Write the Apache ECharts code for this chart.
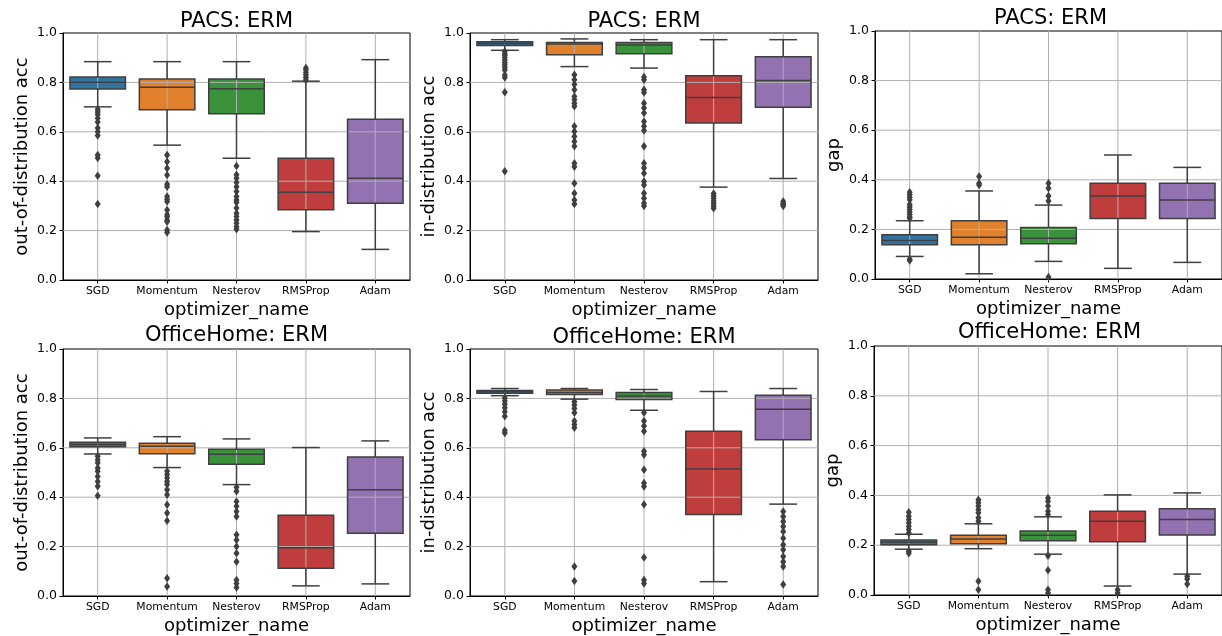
<!DOCTYPE html>
<html>
<head>
<meta charset="utf-8">
<title>Optimizer comparison: ERM on PACS and OfficeHome</title>
<script src="https://cdn.jsdelivr.net/npm/echarts@6/dist/echarts.min.js"></script>
<style>
  html, body { margin: 0; padding: 0; background: #fff; }
  #chart { width: 1222px; height: 636px; }
</style>
</head>
<body>
<div id="chart"></div>
<script>
// Optimizers on the x axis and the shared y ticks
const categories = ['SGD', 'Momentum', 'Nesterov', 'RMSProp', 'Adam'];
const yTicks = [0.0, 0.2, 0.4, 0.6, 0.8, 1.0];
const boxColors = ['#3274a1', '#e1812c', '#3a923a', '#c03d3e', '#9372b2'];

// Each box: [lower whisker, Q1, median, Q3, upper whisker]
// PACS: out-of-distribution accuracy
const pacsOodBoxes = [
  [0.701, 0.773, 0.801, 0.822, 0.884],
  [0.546, 0.689, 0.780, 0.814, 0.884],
  [0.493, 0.673, 0.774, 0.814, 0.884],
  [0.196, 0.284, 0.355, 0.493, 0.805],
  [0.124, 0.311, 0.412, 0.651, 0.892]
];
const pacsOodOutliers = [
  [0.69, 0.68, 0.67, 0.655, 0.64, 0.615, 0.60, 0.585, 0.506, 0.494, 0.422, 0.308],
  [0.506, 0.479, 0.452, 0.425, 0.388, 0.378, 0.338, 0.327, 0.318, 0.283, 0.264, 0.256, 0.243, 0.236, 0.202, 0.192],
  [0.462, 0.426, 0.412, 0.395, 0.378, 0.358, 0.338, 0.324, 0.314, 0.291, 0.27, 0.257, 0.243, 0.23, 0.216, 0.205],
  [0.858, 0.85, 0.84, 0.83, 0.82, 0.81],
  []
];

// PACS: in-distribution accuracy
const pacsIdBoxes = [
  [0.930, 0.949, 0.957, 0.965, 0.973],
  [0.864, 0.912, 0.955, 0.962, 0.976],
  [0.858, 0.916, 0.951, 0.962, 0.973],
  [0.376, 0.636, 0.739, 0.827, 0.973],
  [0.411, 0.699, 0.808, 0.904, 0.973]
];
const pacsIdOutliers = [
  [0.925, 0.915, 0.91, 0.90, 0.89, 0.88, 0.87, 0.86, 0.85, 0.83, 0.82, 0.76, 0.44],
  [0.831, 0.811, 0.791, 0.77, 0.743, 0.73, 0.716, 0.703, 0.622, 0.601, 0.581, 0.561, 0.541, 0.473, 0.459, 0.392, 0.351, 0.324, 0.308],
  [0.822, 0.811, 0.77, 0.759, 0.716, 0.696, 0.676, 0.642, 0.622, 0.605, 0.541, 0.473, 0.453, 0.432, 0.399, 0.385, 0.351, 0.331, 0.311, 0.30],
  [0.35, 0.34, 0.33, 0.32, 0.31, 0.30, 0.29],
  [0.318, 0.31, 0.305, 0.30]
];

// PACS: generalization gap
const pacsGapBoxes = [
  [0.091, 0.138, 0.155, 0.178, 0.235],
  [0.021, 0.138, 0.168, 0.235, 0.355],
  [0.071, 0.142, 0.164, 0.208, 0.298],
  [0.043, 0.244, 0.335, 0.386, 0.500],
  [0.067, 0.244, 0.319, 0.386, 0.450]
];
const pacsGapOutliers = [
  [0.35, 0.34, 0.33, 0.32, 0.30, 0.29, 0.28, 0.27, 0.26, 0.25, 0.245, 0.08, 0.075],
  [0.413, 0.386, 0.379],
  [0.386, 0.366, 0.335, 0.315, 0.008],
  [],
  []
];

// OfficeHome: out-of-distribution accuracy
const officeOodBoxes = [
  [0.575, 0.604, 0.613, 0.622, 0.640],
  [0.520, 0.576, 0.606, 0.618, 0.645],
  [0.451, 0.533, 0.574, 0.594, 0.636],
  [0.041, 0.112, 0.195, 0.327, 0.601],
  [0.049, 0.254, 0.430, 0.563, 0.628]
];
const officeOodOutliers = [
  [0.566, 0.552, 0.539, 0.518, 0.505, 0.484, 0.464, 0.444, 0.406],
  [0.505, 0.491, 0.478, 0.464, 0.451, 0.430, 0.41, 0.369, 0.336, 0.305, 0.072, 0.038],
  [0.44, 0.424, 0.383, 0.363, 0.342, 0.322, 0.248, 0.227, 0.2, 0.173, 0.139, 0.065, 0.051, 0.034],
  [],
  []
];

// OfficeHome: in-distribution accuracy
const officeIdBoxes = [
  [0.811, 0.821, 0.827, 0.832, 0.840],
  [0.797, 0.816, 0.824, 0.834, 0.840],
  [0.752, 0.796, 0.810, 0.824, 0.836],
  [0.058, 0.330, 0.514, 0.667, 0.828],
  [0.372, 0.633, 0.756, 0.813, 0.840]
];
const officeIdOutliers = [
  [0.802, 0.789, 0.776, 0.762, 0.746, 0.728, 0.670, 0.66],
  [0.786, 0.773, 0.759, 0.742, 0.708, 0.694, 0.681, 0.119, 0.061],
  [0.742, 0.708, 0.688, 0.667, 0.586, 0.572, 0.511, 0.457, 0.443, 0.37, 0.156, 0.065, 0.051],
  [],
  [0.342, 0.322, 0.302, 0.281, 0.261, 0.234, 0.207, 0.187, 0.16, 0.139, 0.119, 0.047]
];

// OfficeHome: generalization gap
const officeGapBoxes = [
  [0.184, 0.202, 0.212, 0.221, 0.244],
  [0.186, 0.206, 0.225, 0.240, 0.286],
  [0.164, 0.218, 0.240, 0.257, 0.314],
  [0.036, 0.214, 0.296, 0.336, 0.402],
  [0.084, 0.241, 0.303, 0.346, 0.410]
];
const officeGapOutliers = [
  [0.332, 0.316, 0.303, 0.29, 0.276, 0.263, 0.249, 0.176, 0.168],
  [0.383, 0.37, 0.357, 0.343, 0.33, 0.31, 0.296, 0.055, 0.021],
  [0.39, 0.377, 0.357, 0.336, 0.323, 0.158, 0.099, 0.021, 0.008],
  [0.021, 0.008],
  [0.075, 0.064, 0.044]
];

const panels = [
  { title: 'PACS: ERM', yName: 'out-of-distribution acc', boxes: pacsOodBoxes, outliers: pacsOodOutliers,
    grid: { left: 63, top: 33, width: 347, height: 247 }, titleTop: 11 },
  { title: 'PACS: ERM', yName: 'in-distribution acc', boxes: pacsIdBoxes, outliers: pacsIdOutliers,
    grid: { left: 470, top: 33, width: 348, height: 247 }, titleTop: 11 },
  { title: 'PACS: ERM', yName: 'gap', boxes: pacsGapBoxes, outliers: pacsGapOutliers,
    grid: { left: 875, top: 31, width: 351, height: 248 }, titleTop: 8 },
  { title: 'OfficeHome: ERM', yName: 'out-of-distribution acc', boxes: officeOodBoxes, outliers: officeOodOutliers,
    grid: { left: 63, top: 349, width: 347, height: 247 }, titleTop: 325 },
  { title: 'OfficeHome: ERM', yName: 'in-distribution acc', boxes: officeIdBoxes, outliers: officeIdOutliers,
    grid: { left: 470, top: 349, width: 348, height: 247 }, titleTop: 327 },
  { title: 'OfficeHome: ERM', yName: 'gap', boxes: officeGapBoxes, outliers: officeGapOutliers,
    grid: { left: 874, top: 346, width: 351, height: 249 }, titleTop: 322 }
];

const FONT = 'DejaVu Sans';
const EDGE = '#3f3f3f';
const GRID_LINE = '#b0b0b0';

// Geometry of one box in pixel space
function boxGeom(api) {
  const idx = api.value(0);
  const pLo = api.coord([idx, api.value(1)]);
  const pQ1 = api.coord([idx, api.value(2)]);
  const pMed = api.coord([idx, api.value(3)]);
  const pQ3 = api.coord([idx, api.value(4)]);
  const pHi = api.coord([idx, api.value(5)]);
  const band = api.size([1, 0])[0];
  return { idx, x: pMed[0], w: band * 0.8, yLo: pLo[1], yQ1: pQ1[1], yMed: pMed[1], yQ3: pQ3[1], yHi: pHi[1] };
}

// Box fill (drawn under the grid lines)
function renderBoxFill(params, api) {
  const g = boxGeom(api);
  return {
    type: 'rect',
    shape: { x: g.x - g.w / 2, y: g.yQ3, width: g.w, height: g.yQ1 - g.yQ3 },
    style: { fill: boxColors[g.idx], stroke: null }
  };
}

// Box outline, median, whiskers and caps (drawn over the grid lines)
function renderBoxLines(params, api) {
  const g = boxGeom(api);
  const ls = { stroke: EDGE, lineWidth: 1.5, fill: null };
  const cap = g.w / 4;
  return {
    type: 'group',
    children: [
      { type: 'rect', shape: { x: g.x - g.w / 2, y: g.yQ3, width: g.w, height: g.yQ1 - g.yQ3 }, style: ls },
      { type: 'line', shape: { x1: g.x - g.w / 2, y1: g.yMed, x2: g.x + g.w / 2, y2: g.yMed }, style: ls },
      { type: 'line', shape: { x1: g.x, y1: g.yQ1, x2: g.x, y2: g.yLo }, style: ls },
      { type: 'line', shape: { x1: g.x, y1: g.yQ3, x2: g.x, y2: g.yHi }, style: ls },
      { type: 'line', shape: { x1: g.x - cap, y1: g.yLo, x2: g.x + cap, y2: g.yLo }, style: ls },
      { type: 'line', shape: { x1: g.x - cap, y1: g.yHi, x2: g.x + cap, y2: g.yHi }, style: ls }
    ]
  };
}

// Grid lines: one vertical line per category, horizontal lines at the inner y ticks
function renderGridLines(params, api) {
  const cs = params.coordSys;
  const idx = api.value(0);
  const x = api.coord([idx, 0])[0];
  const ls = { stroke: GRID_LINE, lineWidth: 1 };
  const children = [
    { type: 'line', shape: { x1: x, y1: cs.y, x2: x, y2: cs.y + cs.height }, style: ls }
  ];
  if (idx === 0) {
    yTicks.forEach(function (t) {
      if (t > yTicks[0] && t < yTicks[yTicks.length - 1]) {
        const y = api.coord([0, t])[1];
        children.push({ type: 'line', shape: { x1: cs.x, y1: y, x2: cs.x + cs.width, y2: y }, style: ls });
      }
    });
  }
  return { type: 'group', children: children };
}

const option = {
  backgroundColor: '#ffffff',
  animation: false,
  textStyle: { fontFamily: FONT },
  title: [],
  grid: [],
  xAxis: [],
  yAxis: [],
  series: []
};

panels.forEach(function (p, i) {
  option.grid.push(Object.assign({ show: true, borderColor: '#000', borderWidth: 1, backgroundColor: '#fff' }, p.grid));
  option.title.push({
    text: p.title,
    left: p.grid.left + p.grid.width / 2,
    top: p.titleTop,
    textAlign: 'center',
    padding: 0,
    textStyle: { fontFamily: FONT, fontSize: 21, fontWeight: 'normal', color: '#000' }
  });
  option.xAxis.push({
    type: 'category',
    gridIndex: i,
    data: categories,
    boundaryGap: true,
    name: 'optimizer_name',
    nameLocation: 'middle',
    nameGap: 21,
    nameTextStyle: { fontFamily: FONT, fontSize: 18, color: '#000' },
    axisLine: { show: true, lineStyle: { color: '#000', width: 1 } },
    axisTick: { show: true, alignWithLabel: true, length: 3.5, lineStyle: { color: '#000' } },
    axisLabel: { fontFamily: FONT, fontSize: 10.8, color: '#000', margin: 6, interval: 0 },
    splitLine: { show: false }
  });
  option.yAxis.push({
    type: 'value',
    gridIndex: i,
    min: yTicks[0],
    max: yTicks[yTicks.length - 1],
    interval: 0.2,
    name: p.yName,
    nameLocation: 'middle',
    nameGap: 32,
    nameTextStyle: { fontFamily: FONT, fontSize: 18, color: '#000' },
    axisLine: { show: true, lineStyle: { color: '#000', width: 1 } },
    axisTick: { show: true, length: 3.5, lineStyle: { color: '#000' } },
    axisLabel: { fontFamily: FONT, fontSize: 12.5, color: '#000', margin: 6,
      formatter: function (v) { return v.toFixed(1); } },
    splitLine: { show: false }
  });

  const boxData = p.boxes.map(function (b, k) { return [k].concat(b); });

  option.series.push({
    type: 'custom',
    xAxisIndex: i, yAxisIndex: i,
    z: 2,
    renderItem: renderBoxFill,
    encode: { x: 0, y: [1, 2, 3, 4, 5] },
    data: boxData,
    silent: true
  });
  option.series.push({
    type: 'custom',
    xAxisIndex: i, yAxisIndex: i,
    z: 3,
    renderItem: renderGridLines,
    encode: { x: 0, y: 1 },
    data: categories.map(function (c, k) { return [k, yTicks[0]]; }),
    silent: true
  });
  option.series.push({
    type: 'custom',
    xAxisIndex: i, yAxisIndex: i,
    z: 4,
    renderItem: renderBoxLines,
    encode: { x: 0, y: [1, 2, 3, 4, 5] },
    data: boxData,
    silent: true
  });

  const pts = [];
  p.outliers.forEach(function (vals, k) {
    vals.forEach(function (v) { pts.push([k, v]); });
  });
  option.series.push({
    type: 'scatter',
    xAxisIndex: i, yAxisIndex: i,
    z: 5,
    symbol: 'diamond',
    symbolSize: [6, 8.5],
    itemStyle: { color: EDGE, opacity: 1 },
    data: pts,
    silent: true
  });
});

const chart = echarts.init(document.getElementById('chart'), null, { renderer: 'canvas' });
chart.setOption(option);
</script>
</body>
</html>
